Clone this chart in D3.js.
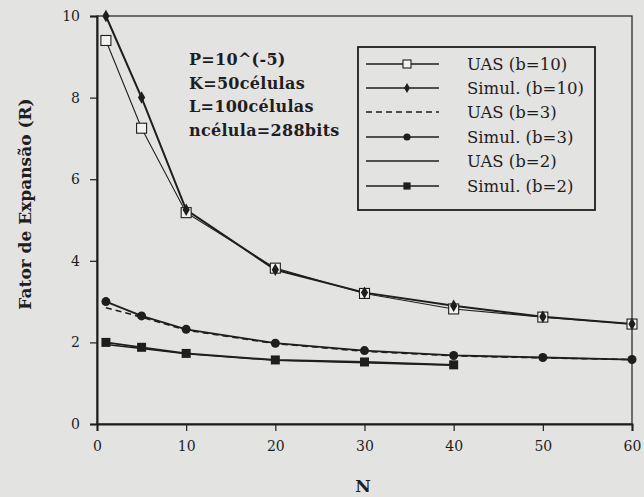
<!DOCTYPE html>
<html>
<head>
<meta charset="utf-8">
<script src="https://cdn.jsdelivr.net/npm/d3@7"></script>
<style>
  body { margin: 0; background: #e3e3e1; }
  svg { display: block; }
  text { font-family: "DejaVu Serif", "Liberation Serif", serif; fill: #1e1e1e; }
</style>
</head>
<body>
<script>
// valores
const nSimul10 = [1, 5, 10, 20, 30, 40, 50, 60];
const simul10 = [10.0, 8.0, 5.25, 3.78, 3.22, 2.9, 2.63, 2.45];
const nUas10 = [1, 5, 10, 20, 30, 40, 50, 60];
const uas10 = [9.4, 7.25, 5.18, 3.82, 3.2, 2.82, 2.62, 2.45];
const nB3 = [1, 5, 10, 20, 30, 40, 50, 60];
const simul3 = [3.0, 2.65, 2.32, 1.98, 1.8, 1.68, 1.63, 1.58];
const uas3 = [2.85, 2.62, 2.3, 1.97, 1.78, 1.67, 1.62, 1.58];
const nB2 = [1, 5, 10, 20, 30, 40];
const simul2 = [2.0, 1.88, 1.73, 1.57, 1.52, 1.45];
const uas2 = [1.95, 1.85, 1.72, 1.56, 1.5, 1.44];

const xTicks = [0, 10, 20, 30, 40, 50, 60];
const yTicks = [0, 2, 4, 6, 8, 10];
const legendLabels = ["UAS (b=10)", "Simul. (b=10)", "UAS (b=3)", "Simul. (b=3)", "UAS (b=2)", "Simul. (b=2)"];
const notas = ["P=10^(-5)", "K=50células", "L=100células", "ncélula=288bits"];

const W = 644, H = 497;
const ink = "#1e1e1e";

const svg = d3.select("body").append("svg").attr("width", W).attr("height", H);

const x = d3.scaleLinear().domain([0, 60]).range([97, 632]);
const y = d3.scaleLinear().domain([0, 10]).range([424, 16]);

// moldura
svg.append("rect")
  .attr("x", x(0)).attr("y", y(10))
  .attr("width", x(60) - x(0)).attr("height", y(0) - y(10))
  .attr("fill", "none").attr("stroke", ink).attr("stroke-width", 1.2);

// eixos
const gx = svg.append("g").attr("transform", `translate(0,${y(0)})`);
gx.call(d3.axisBottom(x).tickValues(d3.range(5, 60, 10)).tickSize(4).tickFormat(""));
gx.call(d3.axisBottom(x).tickValues(xTicks).tickSize(7).tickPadding(10).tickFormat(d3.format("d")));
gx.select(".domain").attr("stroke-width", 2);

const gy = svg.append("g").attr("transform", `translate(${x(0)},0)`);
gy.call(d3.axisLeft(y).tickValues(d3.range(1, 10, 2)).tickSize(4).tickFormat(""));
gy.call(d3.axisLeft(y).tickValues(yTicks).tickSize(7).tickPadding(10).tickFormat(d3.format("d")));
gy.select(".domain").attr("stroke-width", 2);

svg.selectAll(".tick line").attr("stroke", ink).attr("stroke-width", 1.2);
svg.selectAll(".domain").attr("stroke", ink);
svg.selectAll(".tick text").attr("font-size", 14).attr("font-family", "DejaVu Serif, serif").attr("fill", ink);

// títulos dos eixos
svg.append("text")
  .attr("transform", `translate(31,${204}) rotate(-90)`)
  .attr("text-anchor", "middle")
  .attr("font-size", 17).attr("font-weight", "bold")
  .text("Fator de Expansão (R)");

svg.append("text")
  .attr("x", 363).attr("y", 492)
  .attr("text-anchor", "middle")
  .attr("font-size", 17).attr("font-weight", "bold")
  .text("N");

// séries
const line = d3.line().x(d => x(d[0])).y(d => y(d[1]));
const pares = (ns, vs) => ns.map((n, i) => [n, vs[i]]);

const series = [
  { pts: pares(nUas10, uas10), dash: null, w: 1.1, marker: "openSquare" },
  { pts: pares(nSimul10, simul10), dash: null, w: 2, marker: "diamond" },
  { pts: pares(nB3, uas3), dash: "6,4", w: 1.6, marker: null },
  { pts: pares(nB3, simul3), dash: null, w: 1.8, marker: "circle" },
  { pts: pares(nB2, uas2), dash: null, w: 1.4, marker: null },
  { pts: pares(nB2, simul2), dash: null, w: 1.8, marker: "square" }
];

function drawMarker(g, type, cx, cy, k = 1) {
  if (type === "openSquare") {
    g.append("rect").attr("x", cx - 5 * k).attr("y", cy - 5 * k).attr("width", 10 * k).attr("height", 10 * k)
      .attr("fill", "#f2f2f0").attr("stroke", ink).attr("stroke-width", 1.1);
  } else if (type === "diamond") {
    g.append("path").attr("d", d3.symbol(d3.symbolDiamond, 45 * k * k)()).attr("transform", `translate(${cx},${cy})`)
      .attr("fill", ink);
  } else if (type === "circle") {
    g.append("circle").attr("cx", cx).attr("cy", cy).attr("r", 4.5 * k).attr("fill", ink);
  } else if (type === "square") {
    g.append("rect").attr("x", cx - 4.5 * k).attr("y", cy - 4.5 * k).attr("width", 9 * k).attr("height", 9 * k).attr("fill", ink);
  }
}

series.forEach(s => {
  svg.append("path").datum(s.pts).attr("d", line)
    .attr("fill", "none").attr("stroke", ink).attr("stroke-width", s.w)
    .attr("stroke-dasharray", s.dash);
});
series.forEach(s => {
  if (!s.marker) return;
  const g = svg.append("g");
  s.pts.forEach(p => drawMarker(g, s.marker, x(p[0]), y(p[1])));
});

// anotação
const nota = svg.append("text").attr("font-size", 16).attr("font-weight", "bold").attr("letter-spacing", 0.3);
notas.forEach((t, i) => {
  nota.append("tspan").attr("x", 189).attr("y", 65 + i * 23.5).text(t);
});

// legenda
const leg = svg.append("g");
leg.append("rect").attr("x", 358).attr("y", 47).attr("width", 237).attr("height", 163)
  .attr("fill", "none").attr("stroke", ink).attr("stroke-width", 1.8);
const legY = [64, 88, 112, 137, 161, 186];
legendLabels.forEach((t, i) => {
  const ly = legY[i];
  const s = series[i];
  leg.append("line").attr("x1", 366).attr("x2", 439).attr("y1", ly).attr("y2", ly)
    .attr("stroke", ink).attr("stroke-width", s.dash ? 1.6 : 1.4).attr("stroke-dasharray", s.dash);
  if (s.marker) drawMarker(leg, s.marker, 407, ly, 0.8);
  leg.append("text").attr("x", 467).attr("y", ly + 6).attr("font-size", 16.5).text(t);
});
</script>
</body>
</html>
